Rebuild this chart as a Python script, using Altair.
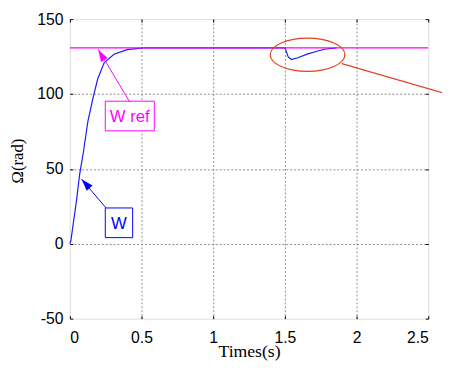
import altair as alt
import pandas as pd

# ---- data ----
w_t = [0, 0.007, 0.023, 0.046, 0.068, 0.095, 0.125, 0.16, 0.194, 0.24, 0.308, 0.4, 0.514,
       1.5, 1.51, 1.523, 1.546, 1.59, 1.66, 1.73, 1.774, 1.86]
w_v = [0, 2, 13, 28.6, 46.2, 61.6, 81.4, 96.7, 110, 121, 126.6, 129.6, 130.8,
       130.8, 128.5, 124.8, 123, 124.2, 126.8, 128.7, 129.9, 130.8]
ref_t = [0, 2.5]
ref_v = [130.8, 130.8]

x_ticks = [0, 0.5, 1, 1.5, 2, 2.5]
y_ticks = [-50, 0, 50, 100, 150]

# annotations: label, box corners, text anchor, arrow tail / tip / head, head angle, colour
ann_label = ["W ref", "W"]
ann_color = ["#ff00ff", "#0000ff"]
box_t1 = [0.247, 0.247]
box_t2 = [0.589, 0.438]
box_v1 = [95.2, 23.9]
box_v2 = [75.4, 4.1]
txt_t = [0.418, 0.342]
txt_v = [85.3, 14.0]
tail_t = [0.418, 0.253]
tail_v = [94.6, 23.8]
tip_t = [0.199, 0.082]
tip_v = [129.8, 43.1]
head_t = [0.219, 0.110]
head_v = [126.2, 40.1]
head_angle = [329, 318]

# red zoom ellipse and its leader line
ell_t = [1.658]
ell_v = [126.2]
lead_t = [1.897, 2.664]
lead_v = [120.3, 99.0]

w_df = pd.DataFrame({"t": w_t, "v": w_v})
ref_df = pd.DataFrame({"t": ref_t, "v": ref_v})
ann_df = pd.DataFrame({
    "label": ann_label, "color": ann_color,
    "t1": box_t1, "t2": box_t2, "v1": box_v1, "v2": box_v2,
    "tt": txt_t, "tv": txt_v,
    "at": tail_t, "av": tail_v, "pt": tip_t, "pv": tip_v,
    "ht": head_t, "hv": head_v, "ang": head_angle,
})
ell_df = pd.DataFrame({"t": ell_t, "v": ell_v})
lead_df = pd.DataFrame({"t": lead_t, "v": lead_v})

xs = alt.Scale(domain=[0, 2.5], nice=False, zero=False)
ys = alt.Scale(domain=[-50, 150], nice=False, zero=False)

SANS = "Liberation Sans"
SERIF = "Liberation Serif"

x_main = alt.Axis(
    values=x_ticks, labelExpr="'' + datum.value", orient="bottom",
    grid=True, gridColor="#8c8c8c", gridDash=[2, 2], gridWidth=1,
    gridOpacity={"condition": {"test": "datum.value == 0 || datum.value == 2.5", "value": 0}, "value": 1},
    ticks=False, domain=False, labelPadding=11, labelFont=SANS, labelFontSize=16,
    labelColor="black", title="Times(s)", titleFont=SERIF, titleFontSize=18,
    titleFontWeight="normal", titleColor="black", titleBaseline="top", titleY=25,
)
y_main = alt.Axis(
    values=y_ticks, labelExpr="'' + datum.value", orient="left",
    grid=True, gridColor="#8c8c8c", gridDash=[2, 2], gridWidth=1,
    gridOpacity={"condition": {"test": "datum.value == -50 || datum.value == 150", "value": 0}, "value": 1},
    ticks=False, domain=False, labelPadding=7, labelFont=SANS, labelFontSize=16,
    labelColor="black", title="Ω(rad)", titleFont=SERIF, titleFontSize=17,
    titleFontWeight="normal", titleColor="black", titleAngle=270,
    titleBaseline="alphabetic", titleAlign="center", titleX=-48, titleY=144,
)


def tick_axis(orient, values):
    return alt.Axis(values=values, orient=orient, offset=-3, tickSize=3, tickColor="black",
                    tickWidth=1, labels=False, domain=False, grid=False, title=None)


w_line = alt.Chart(w_df).mark_line(color="#1a1aff", strokeWidth=1.2).encode(
    x=alt.X("t:Q", scale=xs, axis=x_main),
    y=alt.Y("v:Q", scale=ys, axis=y_main),
)

ref_line = alt.Chart(ref_df).mark_line(color="#ff00ff", strokeWidth=1.2).encode(
    x=alt.X("t:Q", scale=xs, axis=tick_axis("top", x_ticks)),
    y=alt.Y("v:Q", scale=ys, axis=tick_axis("right", y_ticks)),
)

boxes = alt.Chart(ann_df).mark_rect(fill="white", strokeWidth=1).encode(
    x=alt.X("t1:Q", scale=xs, axis=tick_axis("bottom", x_ticks)),
    x2="t2:Q",
    y=alt.Y("v1:Q", scale=ys, axis=tick_axis("left", y_ticks)),
    y2="v2:Q",
    stroke=alt.Color("color:N", scale=None),
)

texts = alt.Chart(ann_df).mark_text(font=SANS, fontSize=17, align="center", baseline="middle", dy=1).encode(
    x=alt.X("tt:Q", scale=xs, axis=None),
    y=alt.Y("tv:Q", scale=ys, axis=None),
    text="label:N",
    color=alt.Color("color:N", scale=None),
)

arrow_lines = alt.Chart(ann_df).mark_rule(strokeWidth=1).encode(
    x=alt.X("at:Q", scale=xs, axis=None), x2="pt:Q",
    y=alt.Y("av:Q", scale=ys, axis=None), y2="pv:Q",
    color=alt.Color("color:N", scale=None),
)

heads = alt.Chart(ann_df).mark_point(
    shape="M 0 -1 L 0.65 1 L -0.65 1 Z", filled=True, size=150, opacity=1,
).encode(
    x=alt.X("ht:Q", scale=xs, axis=None),
    y=alt.Y("hv:Q", scale=ys, axis=None),
    angle=alt.Angle("ang:Q", scale=None),
    color=alt.Color("color:N", scale=None),
)

ellipse = alt.Chart(ell_df).mark_point(
    shape="M 1 0 C 1 0.247 0.552 0.447 0 0.447 C -0.552 0.447 -1 0.247 -1 0 "
          "C -1 -0.247 -0.552 -0.447 0 -0.447 C 0.552 -0.447 1 -0.247 1 0 Z",
    filled=False, size=5776, color="#e2401f", strokeWidth=1.2, opacity=1,
).encode(
    x=alt.X("t:Q", scale=xs, axis=None),
    y=alt.Y("v:Q", scale=ys, axis=None),
)

leader = alt.Chart(lead_df).mark_line(color="#e2401f", strokeWidth=1.2, clip=False).encode(
    x=alt.X("t:Q", scale=xs, axis=None),
    y=alt.Y("v:Q", scale=ys, axis=None),
)

chart = alt.layer(
    w_line, ref_line, boxes, arrow_lines, heads, texts, ellipse, leader
).resolve_axis(x="independent", y="independent").properties(
    width=365, height=305,
    autosize=alt.AutoSizeParams(type="none"),
    padding={"left": 63, "top": 8, "right": 14, "bottom": 50},
).configure_view(stroke="black", strokeWidth=1.5).configure(background="white")

chart.save("out.html", embed_options={"renderer": "svg", "actions": False})
